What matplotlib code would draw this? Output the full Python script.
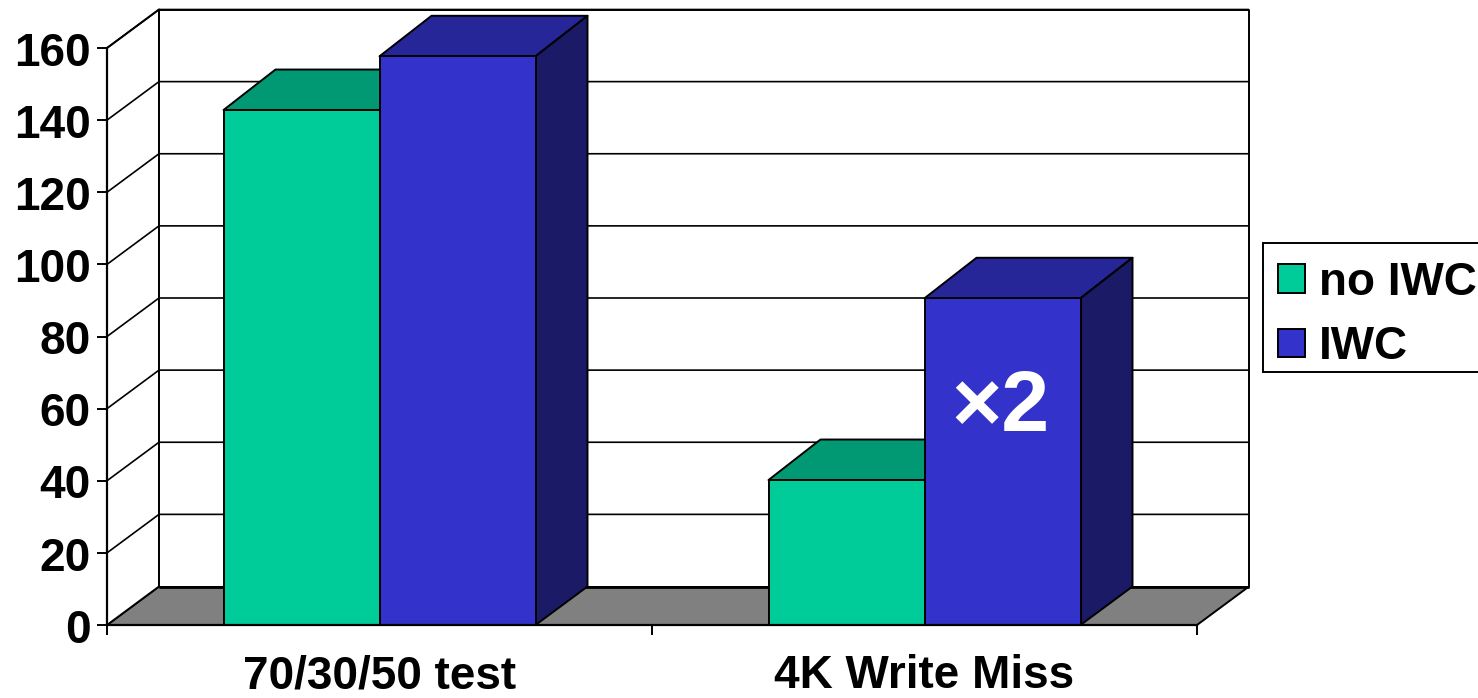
import numpy as np
import matplotlib
matplotlib.use("Agg")
import matplotlib.pyplot as plt
from matplotlib.patches import Polygon, Patch, Rectangle
from matplotlib.transforms import ScaledTranslation

plt.rcParams['font.family'] = ['Liberation Sans', 'DejaVu Sans']
plt.rcParams['font.weight'] = 'bold'

categories = ["70/30/50 test", "4K Write Miss"]
series_names = ["no IWC", "IWC"]
no_iwc = [142.8, 40.2]
iwc = [157.7, 90.6]
y_ticks = [0, 20, 40, 60, 80, 100, 120, 140, 160]

colors_front = ["#00CC99", "#3333CC"]
colors_top = ["#009973", "#262699"]
colors_side = ["#006B50", "#1A1A66"]
floor_color = "#808080"

# depth of the fake 3d box, in axis units
depth_x = 52 / 545
depth_y = 38.5 * 160 / 577
top_depth_y = 40.5 * 160 / 577
bar_w = 156 / 545

fig = plt.figure(figsize=(14.78, 6.98), dpi=100)
ax = fig.add_axes([107 / 1478, (698 - 625) / 698, 1090 / 1478, 577 / 698])
ax.set_xlim(0, 2)
ax.set_ylim(0, 160)
ax.patch.set_visible(False)


def poly(points, color, z, lw=1.4):
    ax.add_patch(Polygon(points, closed=True, facecolor=color, edgecolor="black",
                         linewidth=lw, zorder=z, clip_on=False, joinstyle="round"))


# floor and walls
poly([(0, 0), (2, 0), (2 + depth_x, depth_y), (depth_x, depth_y)], floor_color, 1)
poly([(0, 0), (depth_x, depth_y), (depth_x, 160 + depth_y), (0, 160)], "white", 1)
poly([(depth_x, depth_y), (2 + depth_x, depth_y), (2 + depth_x, 160 + depth_y),
      (depth_x, 160 + depth_y)], "white", 1)

# grid lines run along the side wall and then the back wall
for t in y_ticks[1:]:
    ax.plot([0, depth_x, 2 + depth_x], [t, t + depth_y, t + depth_y], color="black",
            lw=1.2, zorder=2, clip_on=False, solid_capstyle="butt")
ax.plot([depth_x, 2 + depth_x], [depth_y, depth_y], color="black", lw=2, zorder=2,
        clip_on=False, solid_capstyle="butt")


def draw_bar(x, h, i, z):
    poly([(x, h), (x + bar_w, h), (x + bar_w + depth_x, h + top_depth_y),
          (x + depth_x, h + top_depth_y)], colors_top[i], z)
    poly([(x + bar_w, 0), (x + bar_w + depth_x, depth_y), (x + bar_w + depth_x, h + top_depth_y),
          (x + bar_w, h)], colors_side[i], z)
    poly([(x, 0), (x + bar_w, 0), (x + bar_w, h), (x, h)], colors_front[i], z)


for k in range(len(categories)):
    center = k + 0.5
    draw_bar(center - bar_w, no_iwc[k], 0, 3 + k)
    draw_bar(center, iwc[k], 1, 3.5 + k)

# axes
for side in ["top", "right"]:
    ax.spines[side].set_visible(False)
for side in ["left", "bottom"]:
    ax.spines[side].set_linewidth(1.6)
    ax.spines[side].set_zorder(6)

ax.set_yticks(y_ticks)
ax.set_xticks([0, 1, 2])
ax.set_xticklabels([])
ax.set_xticks([0.5, 1.5], labels=categories, minor=True)
ax.tick_params(axis="y", length=7.2, width=1.4, labelsize=33, pad=4.5)
ax.tick_params(axis="x", which="major", length=7.2, width=1.4)
ax.tick_params(axis="x", which="minor", length=0, labelsize=33, pad=21)

# y labels sit a little under their ticks
down = ScaledTranslation(0, -0.5 / 72, fig.dpi_scale_trans)
for label in ax.get_yticklabels():
    label.set_transform(label.get_transform() + down)

ax.text(1.5 + bar_w / 2 - 0.003, 60, "×2", color="white", fontsize=62, fontweight="bold",
        ha="center", va="center", zorder=8)

# legend box runs off the right edge of the figure
fig.add_artist(Rectangle((1263 / 1478, 1 - 372 / 698), 240 / 1478, 129 / 698, facecolor="white",
                         edgecolor="black", linewidth=1.4, transform=fig.transFigure))
handles = [Patch(facecolor=colors_front[i], edgecolor="black", linewidth=1.4, label=series_names[i])
           for i in range(2)]
leg = fig.legend(handles=handles, loc="upper left", bbox_to_anchor=(1259 / 1478, 1 - 241.5 / 698),
                 fontsize=33, frameon=False, handlelength=0.58, handleheight=0.58,
                 handletextpad=0.3, labelspacing=0.45, borderpad=0.42, borderaxespad=0)

fig.savefig("out.png", dpi=100, facecolor="white")
